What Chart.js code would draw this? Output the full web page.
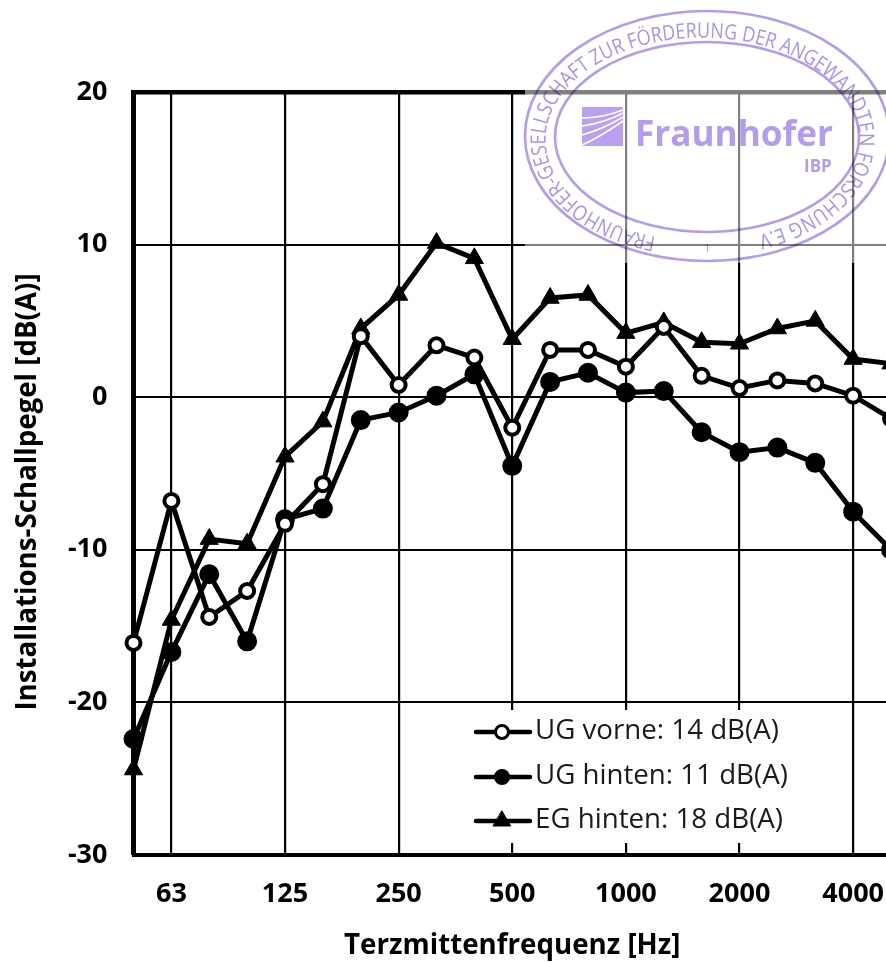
<!DOCTYPE html>
<html><head><meta charset="utf-8">
<style>
html,body{margin:0;padding:0;background:#fff;width:886px;height:963px;overflow:hidden}
#wrap{position:relative;width:886px;height:963px;overflow:hidden}
canvas{position:absolute;left:0;top:0}
#veil{position:absolute;left:525px;top:0;width:361px;height:263px;background:rgba(255,255,255,.5)}
#stamp{position:absolute;left:0;top:0;mix-blend-mode:multiply}
</style>
<script src="https://cdn.jsdelivr.net/npm/chart.js@4"></script>
</head><body>
<div id="wrap">
<canvas id="c" width="960" height="963"></canvas>
<div id="veil"></div>
<svg id="stamp" width="886" height="963" viewBox="0 0 886 963" font-family="'Open Sans'">
  <g fill="none" stroke="#b49bee">
    <ellipse cx="707" cy="136" rx="182" ry="125" stroke-width="2.6"/>
    <ellipse cx="707" cy="137" rx="152" ry="95" stroke-width="2.6"/>
  </g>
  <defs><path id="ring" d="M 656 237 A 157 102 0 1 1 762 234"/></defs>
  <text font-size="21" fill="#ab92ea"><textPath href="#ring" startOffset="0" textLength="724" lengthAdjust="spacingAndGlyphs">FRAUNHOFER-GESELLSCHAFT ZUR FÖRDERUNG DER ANGEWANDTEN FORSCHUNG E.V.</textPath></text>
  <g>
    <rect x="582" y="107" width="41" height="39" fill="#b9a1ef"/>
    <g fill="none" stroke="#fff" stroke-width="1.6">
      <path d="M582 118 C596 118 610 115 623 110"/>
      <path d="M582 126 C596 124 610 120 623 113"/>
      <path d="M582 135 C596 131 610 125 623 117"/>
      <path d="M582 145 C596 139 610 130 623 121"/>
    </g>
  </g>
  <text x="635" y="146" font-size="36" font-weight="700" fill="#b39cec" textLength="198" lengthAdjust="spacingAndGlyphs">Fraunhofer</text>
  <text x="804" y="172" font-size="17" font-weight="700" fill="#b39cec">IBP</text>
  <text x="704" y="252" font-size="11" fill="#a99bd8">1</text>
</svg>
</div>
<script>
const categories = ['50','63','80','100','125','160','200','250','315','400','500','630','800','1000','1250','1600','2000','2500','3150','4000','5000'];
const shownTicks = ['63','125','250','500','1000','2000','4000'];
const ugVorne  = [-16.1,-6.8,-14.4,-12.7,-8.3,-5.7,4.0,0.8,3.4,2.6,-2.0,3.1,3.1,2.0,4.6,1.4,0.6,1.1,0.9,0.1,-1.4];
const ugHinten = [-22.4,-16.7,-11.6,-16.0,-8.0,-7.3,-1.5,-1.0,0.1,1.5,-4.5,1.0,1.6,0.3,0.4,-2.3,-3.6,-3.3,-4.3,-7.5,-10.0];
const egHinten = [-24.4,-14.6,-9.3,-9.6,-3.9,-1.6,4.5,6.7,10.1,9.1,3.8,6.5,6.7,4.2,4.9,3.6,3.5,4.5,5.0,2.5,2.2];
const seriesNames = ['UG vorne: 14 dB(A)','UG hinten: 11 dB(A)','EG hinten: 18 dB(A)'];
const xTitle = 'Terzmittenfrequenz [Hz]';
const yTitle = 'Installations-Schallpegel [dB(A)]';

const FONT = "'Open Sans'";
function ds(label,data,style,fill,radius){
  return {label,data,borderColor:'#000',borderWidth:5,backgroundColor:fill,pointBackgroundColor:fill,
    pointBorderColor:'#000',pointBorderWidth:style==='triangle'?1:4,pointRadius:radius,pointStyle:style,tension:0,clip:false};
}
const overlay = {
  id:'overlay',
  beforeDatasetsDraw(chart){
    const c=chart.ctx;
    c.save();c.fillStyle='#fff';c.fillRect(468,710,325,133);c.restore();
  },
  afterDraw(chart){
    const c=chart.ctx;
    c.save();
    const rows=[732,777,821];
    chart.data.datasets.forEach((d,i)=>{
      const y=rows[i];
      c.strokeStyle='#000';c.lineWidth=4.5;c.lineCap='round';
      c.beginPath();c.moveTo(476,y);c.lineTo(530,y);c.stroke();
      c.fillStyle=d.pointBackgroundColor;c.strokeStyle='#000';
      c.lineWidth=d.pointStyle==='triangle'?1:3;
      Chart.helpers.drawPoint(c,{pointStyle:d.pointStyle,rotation:0,radius:d.pointStyle==='triangle'?10:6.5,borderWidth:c.lineWidth},502,y);
      c.fillStyle='#1a1a1a';c.font='27.7px '+FONT;c.textAlign='left';c.textBaseline='middle';
      c.fillText(d.label,535,y-1);
    });
    c.translate(28,492);c.rotate(-Math.PI/2);
    c.fillStyle='#000';c.font='bold 27.7px '+FONT;c.textAlign='center';c.textBaseline='middle';
    c.fillText(yTitle,0,0);
    c.restore();
  }
};
new Chart(document.getElementById('c'),{
  type:'line',
  data:{labels:categories,datasets:[
    ds(seriesNames[0],ugVorne,'circle','#fff',7),
    ds(seriesNames[1],ugHinten,'circle','#000',8),
    ds(seriesNames[2],egHinten,'triangle','#000',10.5)
  ]},
  options:{
    responsive:false,animation:false,
    layout:{padding:{top:92,right:69,left:0,bottom:0}},
    plugins:{legend:{display:false},tooltip:{enabled:false},title:{display:false}},
    scales:{
      x:{type:'category',offset:false,
        afterFit(s){s.height=108;},
        grid:{drawTicks:false,
          color:(ctx)=>ctx.tick&&shownTicks.includes(categories[ctx.index])?'#000':'rgba(0,0,0,0)',
          lineWidth:(ctx)=>ctx.tick&&shownTicks.includes(categories[ctx.index])?2.2:0},
        border:{display:true,color:'#000',width:4},
        ticks:{autoSkip:false,maxRotation:0,minRotation:0,padding:23,color:'#000',
          font:{family:FONT,size:27,weight:'bold'},
          callback(v){const l=categories[v];return shownTicks.includes(l)?l:'';}},
        title:{display:true,text:xTitle,color:'#000',font:{family:FONT,size:27.7,weight:'bold'},padding:{top:20,bottom:0}}
      },
      y:{min:-30,max:20,
        afterFit(s){s.width=133.5;},
        grid:{drawTicks:false,color:'#000',lineWidth:(ctx)=>ctx.tick&&(ctx.tick.value===20)?4.5:(ctx.tick&&ctx.tick.value===-30?0:2)},
        border:{display:true,color:'#000',width:5},
        ticks:{stepSize:10,padding:26,color:'#000',font:{family:FONT,size:27,weight:'bold'}}
      }
    }
  },
  plugins:[overlay]
});
</script>
</body></html>
